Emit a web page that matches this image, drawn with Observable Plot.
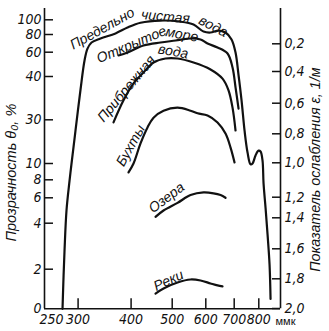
<!DOCTYPE html>
<html><head><meta charset="utf-8">
<script src="https://cdn.jsdelivr.net/npm/d3@7"></script>
<script src="https://cdn.jsdelivr.net/npm/@observablehq/plot@0.6"></script>
<style>
html,body{margin:0;padding:0;background:#fff;}
#wrap{position:relative;width:329px;height:331px;overflow:hidden;}
#wrap svg{position:absolute;left:0;top:0;}
</style></head><body><div id="wrap"></div>
<script>
// ---- axis ticks ----
const lambdaTicks = [250, 300, 400, 500, 600, 700, 800];
const thetaTicks = [0, 2, 4, 6, 8, 10, 30, 40, 60, 80, 100];
const cTicks = [0.2, 0.4, 0.6, 0.8, 1.0, 1.2, 1.4, 1.6, 1.8, 2.0];

// ---- series (wavelength, mμ ; transparency θ0, %) ----
const seriesNames = ["Предельно чистая вода", "Открытое море", "Прибрежная вода", "Бухты", "Озера", "Реки"];
const purestLambda = [275.7, 277, 278.7, 281.7, 286.4, 289.5, 295.8, 304, 310.6, 315.7, 322.7, 338.8, 367.6, 392.3, 421, 469.3, 523.1, 561.3, 592.7, 615.6, 643, 667.8, 690, 705.1, 716.7, 728.5, 740.5, 752.6, 765, 773.3, 786, 798.9, 807.6, 816.3, 820.9, 829.9, 839, 848.1, 852.7];
const purestTheta  = [0, 1.4, 2.8, 5.0, 7.9, 10, 25, 37, 53, 64, 71, 75.5, 81.5, 89.5, 96, 99, 97.5, 93.5, 84, 82.7, 85.4, 82.7, 74.4, 59.7, 41.2, 34.5, 25, 15, 9.9, 10, 13.7, 15.9, 15.5, 11.4, 7.6, 5.2, 3.5, 2.2, 0.5];
const seaLambda = [373.6, 392.3, 427.9, 469.3, 509.4, 552.3, 583.1, 605.7, 639.5, 675.2, 693.7, 705.1, 716.7];
const seaTheta  = [57.3, 59.8, 67.6, 71, 73.2, 75.5, 74.4, 69.8, 65.3, 58.9, 47.4, 37.5, 32.6];
const coastLambda = [363.6, 383.9, 405.3, 427.9, 451.8, 482.2, 514.7, 561.3, 615.6, 657, 678.8, 693.7, 705.1];
const coastTheta  = [28.8, 34.5, 38.4, 43.3, 51.5, 54.8, 54.8, 51.5, 45.8, 39.5, 36.8, 32.8, 25.1];
const bayLambda = [394.4, 405.3, 421, 437.3, 451.8, 477, 514.7, 552.3, 573.7, 605.7, 639.5, 667.8, 686.3, 701.3];
const bayTheta  = [8.9, 10, 19.2, 26.5, 30.5, 32.1, 32.8, 32.1, 31.5, 31, 28.8, 23.7, 17.3, 10.5];
const lakeLambda = [456.7, 477, 514.7, 552.3, 592.7, 625.7, 650, 667.8];
const lakeTheta  = [4.5, 5.0, 5.6, 6.3, 6.6, 6.5, 6.3, 6.0];
const riverLambda = [456.7, 477, 514.7, 552.3, 583.1, 615.6, 639.5, 657];
const riverTheta  = [0.77, 1.03, 1.33, 1.48, 1.43, 1.28, 1.18, 1.13];

// ---- in-chart labels ----
const labelText   = ["Предельно", "чистая", "вода", "Открытое", "море", "Прибрежная", "вода", "Бухты", "Озера", "Реки"];
const labelLambda = [342, 482, 625, 401, 527, 390, 503, 399, 485, 490];
const labelTheta  = [88, 104.5, 91, 68.7, 80, 37.2, 60.8, 18.2, 6.0, 1.43];
const labelAngle  = [-29, 5, 28, -23, 10, -50, 10, -61, -37, -25];

// ---- build tables ----
const seriesData = [
  [purestLambda, purestTheta], [seaLambda, seaTheta], [coastLambda, coastTheta],
  [bayLambda, bayTheta], [lakeLambda, lakeTheta], [riverLambda, riverTheta]
];
const rows = seriesData.flatMap(([L, T], k) => L.map((l, i) => ({name: seriesNames[k], lambda: l, theta: T[i]})));
const labels = labelText.map((t, i) => ({text: t, lambda: labelLambda[i], theta: labelTheta[i], angle: labelAngle[i]}));

// ---- layout (hand-drawn, non-uniform axes of the original) ----
const W = 329, H = 331;
const margins = {marginLeft: 44, marginRight: 49, marginTop: 8, marginBottom: 22.7};
const xDomain = [250, 900];
const xRange = [44, 280];
const yDomain = [0, 2, 4, 6, 8, 10, 30, 40, 60, 80, 100, 116];
const yRange  = [308.3, 268.7, 222.7, 197.3, 179.3, 163, 119.3, 76, 51.7, 34, 19.3, 8];
const cRange  = [43.3, 71, 102.7, 133.3, 162.3, 196.7, 217.3, 248.3, 278.3, 308];
const tickLen = {y: 9, x: 10, c: 8};
const tickFont = '"Liberation Sans Narrow","DejaVu Sans Condensed",sans-serif';
const textFont = '"Liberation Sans","DejaVu Sans",sans-serif';
const ink = "#111";

const xOpts = {type: "log", domain: xDomain, range: xRange, label: null, axis: null};
const yOpts = {type: "linear", domain: yDomain, range: yRange, label: null, axis: null};
const cOpts = {type: "linear", domain: cTicks, range: cRange, label: null, axis: null};
// inward tick ends, found with the same scales
const xs = Plot.scale({x: xOpts});
const ys = Plot.scale({y: yOpts});
const leftTickEnd = xs.invert(xRange[0] + tickLen.y);
const rightTickEnd = xs.invert(xRange[1] - tickLen.c);
const bottomTickEnd = ys.invert(yRange[0] - tickLen.x);

const main = Plot.plot({
  width: W, height: H, ...margins,
  style: {background: "transparent", fontFamily: tickFont, fontSize: "14px", fontStyle: "italic", color: ink},
  x: xOpts, y: yOpts,
  marks: [
    Plot.ruleX(xDomain, {stroke: ink, strokeWidth: 1.6}),
    Plot.ruleY([0], {stroke: ink, strokeWidth: 1.6}),
    Plot.ruleY(thetaTicks.slice(1), {y: d => d, x1: xDomain[0], x2: leftTickEnd, stroke: ink, strokeWidth: 1.5}),
    Plot.ruleX(lambdaTicks.slice(1), {x: d => d, y1: 0, y2: bottomTickEnd, stroke: ink, strokeWidth: 1.5}),
    Plot.axisY({anchor: "left", ticks: thetaTicks, tickSize: 0, tickPadding: 3, tickFormat: d => String(d)}),
    Plot.axisX({anchor: "bottom", ticks: lambdaTicks.slice(1), tickSize: 0, tickPadding: 5, tickFormat: d => String(d)}),
    Plot.axisX({anchor: "bottom", ticks: lambdaTicks.slice(0, 1), tickSize: 0, tickPadding: 5, dx: 7, tickFormat: d => String(d)}),
    Plot.text(["ммк"], {frameAnchor: "bottom-right", dx: -5, dy: 16, textAnchor: "start", fontStyle: "normal", fontSize: 11, fontFamily: textFont}),
    Plot.line(rows, {x: "lambda", y: "theta", z: "name", stroke: ink, strokeWidth: 2.2, curve: "catmull-rom"}),
    Plot.text(labels, {x: "lambda", y: "theta", text: "text", rotate: "angle", fontSize: 14, fontFamily: textFont, fill: ink}),
    Plot.text(["Прозрачность θ₀, %"], {frameAnchor: "left", textAnchor: "middle", dx: -33, dy: 14, rotate: -90, fontSize: 14.5, fontFamily: textFont}),
    Plot.text(["Показатель ослабления ε, 1/м"], {frameAnchor: "right", textAnchor: "middle", dx: 35, dy: 11, rotate: -90, fontSize: 14.3, fontFamily: textFont})
  ]
});

const right = Plot.plot({
  width: W, height: H, ...margins,
  style: {background: "transparent", fontFamily: tickFont, fontSize: "14px", fontStyle: "italic", color: ink},
  x: xOpts, y: cOpts,
  marks: [
    Plot.ruleY(cTicks, {y: d => d, x1: rightTickEnd, x2: xDomain[1], stroke: ink, strokeWidth: 1.5}),
    Plot.axisY({anchor: "right", ticks: cTicks, tickSize: 0, tickPadding: 4, tickFormat: d => d.toFixed(1).replace(".", ",")})
  ]
});

const wrap = document.getElementById("wrap");
wrap.appendChild(main);
wrap.appendChild(right);
</script>
</body></html>
